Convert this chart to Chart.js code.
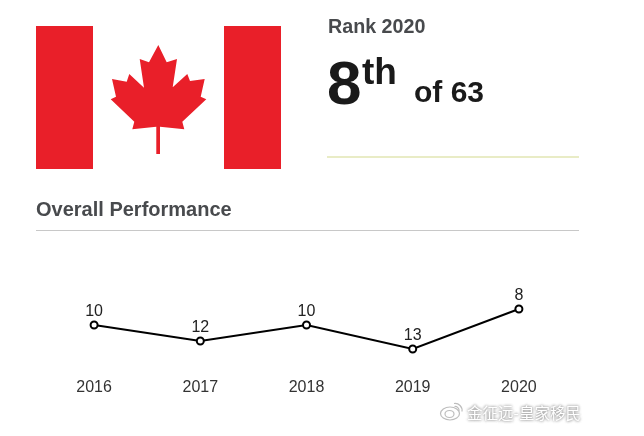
<!DOCTYPE html>
<html><head><meta charset="utf-8">
<style>
html,body{margin:0;padding:0;background:#fff;width:644px;height:436px;overflow:hidden}
body{position:relative;font-family:"Liberation Sans",Arial,sans-serif}
#c{position:absolute;left:0;top:0}
.t{position:absolute;white-space:nowrap;line-height:1}
.r{position:absolute}
</style>
<script src="https://cdn.jsdelivr.net/npm/chart.js@4"></script>
</head><body>
<canvas id="c" width="644" height="436"></canvas>
<div class="r" style="left:36px;top:26px;width:57px;height:143px;background:#e91f29"></div>
<div class="r" style="left:223.5px;top:26px;width:57.5px;height:143px;background:#e91f29"></div>
<svg class="r" style="left:0;top:0" width="320" height="220"><polygon fill="#e91f29" points="158.3,45 166.7,62.3 177,59 172.7,87.3 187.3,74 190,81 204.7,79 200.7,96.7 206.3,99.3 182.3,121.7 184.3,129.3 160,126.7 160,154 156.3,154 156.3,126.7 132.3,129.3 134.3,121.7 110.7,99.3 116,96.7 112,79 126.7,81.7 129.3,74 144,87.7 139.7,59 149,62.3"/></svg>
<div class="t" style="left:328px;top:17px;font-size:19.7px;font-weight:bold;color:#484a4d">Rank 2020</div>
<div class="t" style="left:327px;top:52px;font-size:62px;font-weight:bold;color:#1a1a1a">8</div>
<div class="t" style="left:362px;top:53px;font-size:37px;font-weight:bold;color:#1a1a1a">th</div>
<div class="t" style="left:414px;top:77px;font-size:30px;font-weight:bold;color:#1a1a1a">of 63</div>
<div class="r" style="left:327px;top:156px;width:252px;height:2px;background:#e9ecc6"></div>
<div class="t" style="left:36px;top:199px;font-size:20px;font-weight:bold;color:#484a4d">Overall Performance</div>
<div class="r" style="left:36px;top:230px;width:543px;height:1px;background:#c8c8c8"></div>
<svg class="r" style="left:438px;top:400px" width="28" height="22"><ellipse cx="12" cy="13.5" rx="9.5" ry="6.5" fill="none" stroke="#bdbdbd" stroke-width="1.2"/><ellipse cx="11.5" cy="14" rx="4.5" ry="3.5" fill="none" stroke="#bdbdbd" stroke-width="1.2"/><path d="M16 3.5a7 7 0 0 1 8 8M16.5 6.5a4 4 0 0 1 4.5 4.5" fill="none" stroke="#bdbdbd" stroke-width="1.2"/></svg>
<div class="t" style="left:467px;top:405px;font-size:15.5px;color:#fff;font-family:'Noto Sans CJK SC';text-shadow:0 0 3px #9a9a9a,0 0 3px #9a9a9a">金征远-皇家移民</div>
<script>
const years = ["2016","2017","2018","2019","2020"];
const ranks = [10,12,10,13,8];
const pointLabels = {
  id:"pointLabels",
  afterDatasetsDraw(chart){
    const ctx = chart.ctx, meta = chart.getDatasetMeta(0);
    ctx.save();
    ctx.font = "16px 'Liberation Sans'";
    ctx.fillStyle = "#222";
    ctx.textAlign = "center";
    ctx.textBaseline = "middle";
    meta.data.forEach((p,i)=>ctx.fillText(String(ranks[i]), p.x, p.y-13.5));
    ctx.restore();
  }
};
new Chart(document.getElementById("c"),{
  type:"line",
  data:{labels:years,datasets:[{data:ranks,borderColor:"#000",borderWidth:2,tension:0,
    pointRadius:3.5,pointBorderWidth:2,pointBackgroundColor:"#fff",pointBorderColor:"#000"}]},
  options:{
    responsive:false,animation:false,devicePixelRatio:1,
    layout:{padding:{left:41,right:72,top:277,bottom:33}},
    plugins:{legend:{display:false},tooltip:{enabled:false},title:{display:false}},
    scales:{
      x:{offset:true,grid:{display:false},border:{display:false},
        afterFit(s){s.height=30;},
        ticks:{color:"#333",font:{family:"Liberation Sans",size:16},padding:-3,maxRotation:0}},
      y:{display:false,reverse:true,min:4,max:16}
    }
  },
  plugins:[pointLabels]
});
</script>
</body></html>
